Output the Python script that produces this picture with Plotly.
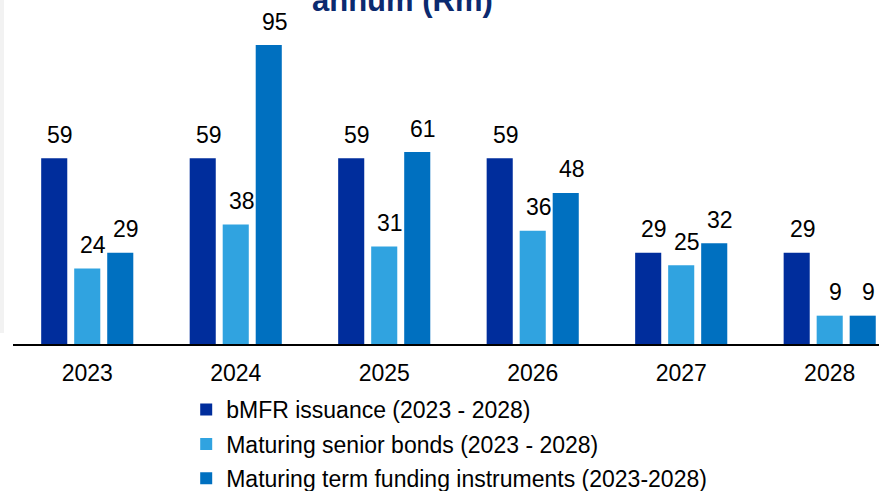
import plotly.graph_objects as go

years = ["2023", "2024", "2025", "2026", "2027", "2028"]
bmfr_issuance = [59, 59, 59, 59, 29, 29]
senior_bonds = [24, 38, 31, 36, 25, 9]
term_funding = [29, 95, 61, 48, 32, 9]

series_names = [
    "bMFR issuance (2023 - 2028)",
    "Maturing senior bonds (2023 - 2028)",
    "Maturing term funding instruments (2023-2028)",
]
series_values = [bmfr_issuance, senior_bonds, term_funding]
colors = ["#002D9C", "#30A3E0", "#0070C0"]

FONT = "Liberation Sans, Arial, sans-serif"

fig = go.Figure()
for k, (name, vals, col) in enumerate(zip(series_names, series_values, colors)):
    fig.add_trace(go.Bar(x=years, y=vals, name=name, legendgroup="g%d" % k,
                         marker=dict(color=col, line=dict(width=0))))

annotations = []
for i, vals in enumerate(series_values):
    for j, v in enumerate(vals):
        annotations.append(dict(
            x=j, y=v, xref="x", yref="y", text=str(v), showarrow=False,
            xanchor="center", yanchor="bottom", xshift=(i - 1) * 33 + 6, yshift=8.5,
            font=dict(family=FONT, size=23, color="#000000"),
        ))

annotations.append(dict(
    x=0.450, y=1.0, xref="paper", yref="paper", text="<b>annum (Rm)</b>",
    showarrow=False, xanchor="center", yanchor="middle",
    font=dict(family=FONT, size=31, color="#0B2A6F"),
))

fig.update_layout(
    width=879, height=491,
    margin=dict(l=13, r=0, t=0, b=147, pad=0, autoexpand=False),
    paper_bgcolor="white", plot_bgcolor="white",
    barmode="group", bargap=0.333, bargroupgap=0.21,
    font=dict(family=FONT, size=23, color="#000000"),
    xaxis=dict(
        type="category", range=[-0.5, 5.332], showline=True, linecolor="#000000", linewidth=2,
        showgrid=False, ticks="", ticklabelstandoff=7, tickfont=dict(size=23, color="#000000"),
        fixedrange=True, automargin=False,
    ),
    yaxis=dict(range=[0, 109.3], visible=False, showgrid=False, zeroline=False, fixedrange=True),
    showlegend=True,
    legend=dict(
        x=0.200, y=-0.128, xanchor="left", yanchor="top", orientation="v",
        font=dict(family=FONT, size=23, color="#000000"), bgcolor="rgba(0,0,0,0)",
        traceorder="grouped", tracegroupgap=1.5,
    ),
    annotations=annotations,
    shapes=[dict(type="rect", xref="paper", yref="paper", x0=-13 / 866, x1=-9 / 866,
                 y0=11 / 344, y1=1.01, fillcolor="#F2F2F2", line=dict(width=0), layer="below")],
)

fig.write_html("out.html")
